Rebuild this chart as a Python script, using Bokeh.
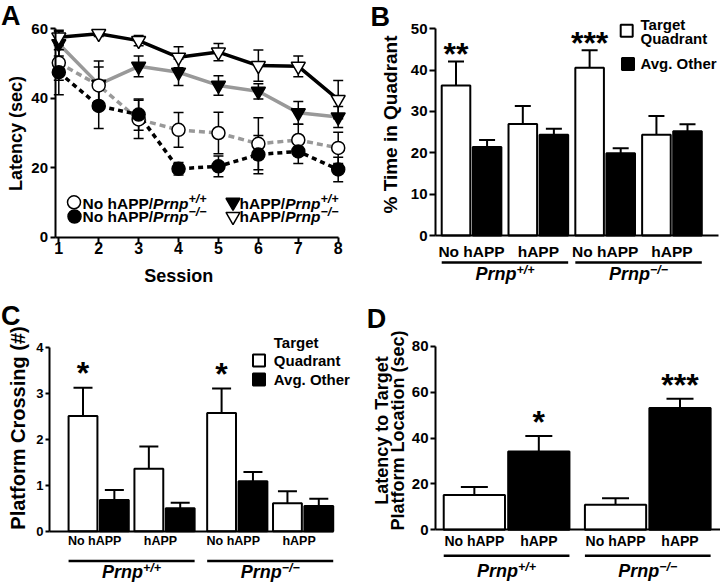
import math
from bokeh.plotting import figure
from bokeh.models import LinearAxis, FixedTicker, Range1d
from bokeh.layouts import column, row
from bokeh.embed import file_html
from bokeh.resources import INLINE
from bokeh.core.properties import value

FONT = "Liberation Sans"
GRAY = "#999999"

# ---------------- data ----------------
# Panel A: escape latency per session
sessions = [1, 2, 3, 4, 5, 6, 7, 8]
latency_ticks = [0, 20, 40, 60]
noapp_wt = [50.2, 43.7, 33.9, 30.9, 30.0, 26.9, 28.0, 25.7]
noapp_wt_err = [5.0, 7.0, 5.5, 5.0, 6.0, 7.5, 4.5, 4.5]
noapp_ko = [47.5, 37.8, 35.3, 19.7, 20.4, 23.8, 24.7, 19.5]
noapp_ko_err = [6.5, 6.5, 4.5, 1.8, 3.0, 5.5, 3.5, 3.5]
happ_wt = [55.7, 44.0, 49.2, 47.5, 43.7, 42.0, 35.8, 34.6]
happ_wt_err = [3.5, 5.0, 3.0, 3.8, 2.8, 2.2, 3.3, 3.0]
happ_ko = [57.6, 58.6, 56.6, 51.8, 53.3, 49.4, 49.2, 39.6]
happ_ko_err = [2.0, 0.8, 1.5, 3.0, 2.5, 4.5, 3.0, 5.5]

# shared category labels
transgene = ["No hAPP", "hAPP"]
genotype_base = ["Prnp", "Prnp"]
genotype_sup = ["+/+", "\u2212/\u2212"]
legend_target = ["Target", "Quadrant"]
legend_other = "Avg. Other"

# Panel B: % time in quadrant (order: NoAPP/WT, hAPP/WT, NoAPP/KO, hAPP/KO)
quad_ticks = [0, 10, 20, 30, 40, 50]
quad_target = [36.3, 27.0, 40.6, 24.4]
quad_target_err = [5.8, 4.3, 4.2, 4.5]
quad_other = [21.4, 24.4, 19.9, 25.2]
quad_other_err = [1.7, 1.4, 1.2, 1.7]
quad_stars = ["**", "", "***", ""]

# Panel C: platform crossings
cross_ticks = [0, 1, 2, 3, 4]
cross_target = [2.51, 1.36, 2.58, 0.61]
cross_target_err = [0.62, 0.49, 0.53, 0.26]
cross_other = [0.68, 0.50, 1.09, 0.55]
cross_other_err = [0.22, 0.12, 0.20, 0.16]
cross_stars = ["*", "", "*", ""]

# Panel D: latency to target platform location
lat_ticks = [0, 20, 40, 60, 80]
lat_target = [15.2, 34.1, 10.9, 53.1]
lat_target_err = [3.4, 6.8, 2.9, 4.0]
lat_stars = ["", "*", "", "***"]

# ---------------- helpers ----------------
HW = {' ': 278, 'N': 722, 'o': 611, 'h': 611, 'A': 722, 'P': 667, '/': 278,
      'r': 389, 'n': 611, 'p': 611, '+': 584, '\u2212': 584}
MID = 0.3465  # em-box middle above the baseline


def text_width(s, size):
    return sum(HW.get(c, 556) for c in s) * size / 1000.0


class Panel:
    """One panel; positions of decorations are given in reference pixels."""

    def __init__(self, ox, oy, w, h, xcal, ycal):
        self.ox, self.oy, self.w, self.h = ox, oy, w, h
        (p1, d1), (p2, d2) = xcal
        l1, l2 = p1 - ox, p2 - ox
        self.kx = (d2 - d1) / (l2 - l1)
        self.x0 = d1 - l1 * self.kx
        (q1, e1), (q2, e2) = ycal
        m1, m2 = q1 - oy, q2 - oy
        self.ky = (e2 - e1) / (m2 - m1)
        self.y0 = e1 - m1 * self.ky
        p = figure(width=w, height=h,
                   x_range=Range1d(self.x0, self.x0 + w * self.kx),
                   y_range=Range1d(self.y0 + h * self.ky, self.y0),
                   x_axis_type=None, y_axis_type=None,
                   toolbar_location=None, output_backend="svg",
                   min_border=0, outline_line_color=None,
                   background_fill_color="white", border_fill_color="white")
        p.title = None
        self.p = p

    def X(self, px):
        return self.x0 + (px - self.ox) * self.kx

    def Y(self, py):
        return self.y0 + (py - self.oy) * self.ky

    def DX(self, n):
        return n * self.kx

    def DY(self, n):
        return -n * self.ky

    def text(self, x, y, s, size, style="bold", align="left", baseline="alphabetic", angle=0.0):
        if baseline == "alphabetic":
            y = y + self.DY(MID * size)
            baseline = "middle"
        self.p.text(x=[x], y=[y], text=[s], text_font=value(FONT),
                    text_font_size=f"{size}px", text_font_style=style,
                    text_align=align, text_baseline=baseline, angle=angle,
                    text_color="black")

    def rich(self, x, y, parts, align="left"):
        total = sum(text_width(s, sz) for s, sz, st, r in parts)
        cur = x if align == "left" else x - self.DX(total / 2.0)
        for s, sz, st, r in parts:
            self.text(cur, y + self.DY(r), s, sz, st)
            cur += self.DX(text_width(s, sz))


def style_axis(ax, size, tick_out, standoff):
    ax.axis_line_width = 2
    ax.axis_line_color = "black"
    ax.major_tick_line_width = 2
    ax.major_tick_line_color = "black" if tick_out > 0 else None
    ax.major_tick_in = 0
    ax.major_tick_out = tick_out
    ax.minor_tick_line_color = None
    ax.major_label_text_font = FONT
    ax.major_label_text_font_style = "bold"
    ax.major_label_text_font_size = f"{size}px"
    ax.major_label_text_color = "black"
    ax.major_label_standoff = standoff


def y_axis(P, xloc, ticks, size, tick_out):
    ax = LinearAxis(fixed_location=xloc, bounds=(ticks[0], ticks[-1]),
                    ticker=FixedTicker(ticks=ticks))
    style_axis(ax, size, tick_out, 2)
    P.p.add_layout(ax, "left")


def x_axis(P, bounds, ticks, size, tick_out, standoff):
    ax = LinearAxis(fixed_location=0, bounds=bounds, ticker=FixedTicker(ticks=ticks))
    style_axis(ax, size, tick_out, standoff)
    P.p.add_layout(ax, "below")


def bars(P, xs, tops, errs, fills, width, cap_px):
    P.p.vbar(x=xs, top=tops, bottom=0, width=width, fill_color=fills,
             line_color="black", line_width=2)
    hi = [t + e for t, e in zip(tops, errs)]
    P.p.segment(x0=xs, y0=tops, x1=xs, y1=hi, line_color="black", line_width=2)
    h = P.DX(cap_px / 2.0)
    P.p.segment(x0=[x - h for x in xs], y0=hi, x1=[x + h for x in xs], y1=hi,
                line_color="black", line_width=2)


def stars(P, xs, tops, errs, marks, drop_px):
    for x, t, e, m in zip(xs, tops, errs, marks):
        if m:
            P.text(x, t + e - P.DY(drop_px), m, 32, align="center")


def cat_labels(P, xs, size, base_y):
    for x, lab in zip(xs, transgene * 2):
        P.text(x, P.Y(base_y), lab, size, align="center")


def footer(P, spans, y_line, y_base, raise_px):
    for g, (l, r) in enumerate(spans):
        P.p.segment(x0=[l], y0=[P.Y(y_line)], x1=[r], y1=[P.Y(y_line)],
                    line_color="black", line_width=2.5)
        P.rich((l + r) / 2.0, P.Y(y_base),
               [(genotype_base[g], 18, "bold italic", 0),
                (genotype_sup[g], 12.5, "bold italic", raise_px)], align="center")


def quad_legend(P, sq1, sq2, tx, bases):
    P.p.scatter([P.X(sq1[0])], [P.Y(sq1[1])], marker="square", size=12,
                fill_color="white", line_color="black", line_width=2)
    P.p.scatter([P.X(sq2[0])], [P.Y(sq2[1])], marker="square", size=12,
                fill_color="black", line_color="black", line_width=2)
    for s, b in zip(legend_target + [legend_other], bases):
        P.text(P.X(tx), P.Y(b), s, 15)


# ---------------- Panel A ----------------
A = Panel(0, 0, 360, 300, ((58.3, 1), (337.7, 8)), ((28.3, 60), (236.7, 0)))
pa = A.p
y_axis(A, A.X(54.5), latency_ticks, 15, 5)
x_axis(A, (A.X(54.5), sessions[-1]), sessions, 16, 5, 0)

series = [
    (happ_wt, happ_wt_err, GRAY, "solid", "inverted_triangle", "black", 14),
    (happ_ko, happ_ko_err, "black", "solid", "inverted_triangle", "white", 14),
    (noapp_wt, noapp_wt_err, GRAY, "6 4", "circle", "white", 13),
    (noapp_ko, noapp_ko_err, "black", "5 4", "circle", "black", 13),
]
for vals, errs, col, dash, mk, fc, sz in series:
    pa.line(sessions, vals, line_color=col, line_width=3.5, line_dash=dash)
cap = A.DX(5)
for vals, errs, col, dash, mk, fc, sz in series:
    lo = [v - e for v, e in zip(vals, errs)]
    hi = [v + e for v, e in zip(vals, errs)]
    pa.segment(x0=sessions, y0=lo, x1=sessions, y1=hi, line_color="black", line_width=1.5)
    pa.segment(x0=[s - cap for s in sessions], y0=hi, x1=[s + cap for s in sessions], y1=hi,
               line_color="black", line_width=1.5)
    pa.segment(x0=[s - cap for s in sessions], y0=lo, x1=[s + cap for s in sessions], y1=lo,
               line_color="black", line_width=1.5)
for vals, errs, col, dash, mk, fc, sz in series:
    pa.scatter(sessions, vals, marker=mk, size=sz, fill_color=fc, line_color="black",
               line_width=1.5)

# legend A
leg_items = [
    ((73.5, 201.8), "circle", "white", 13, 82, 208.3, "No hAPP/", 0),
    ((74.0, 216.0), "circle", "black", 13, 82, 221.7, "No hAPP/", 1),
    ((232.5, 201.8), "inverted_triangle", "black", 14, 239, 208.3, "hAPP/", 0),
    ((232.5, 216.0), "inverted_triangle", "white", 14, 239, 221.7, "hAPP/", 1),
]
for (mx, my), mk, fc, sz, tx, ty, lab, g in leg_items:
    pa.scatter([A.X(mx)], [A.Y(my)], marker=mk, size=sz, fill_color=fc,
               line_color="black", line_width=1.5)
    A.rich(A.X(tx), A.Y(ty), [(lab, 15.5, "bold", 0), (genotype_base[g], 15.5, "bold italic", 0),
                              (genotype_sup[g], 12.5, "bold italic", 5.5)])

A.text(A.X(178.3), A.Y(281.7), "Session", 18, align="center")
A.text(A.X(15.1), A.Y(133), "Latency (sec)", 18, align="center", baseline="middle",
       angle=math.pi / 2)
A.text(A.X(0.5), A.Y(24.8), "A", 27)

# ---------------- Panel B ----------------
B = Panel(360, 0, 360, 300, ((455.5, 0.5), (687, 7.95)), ((28.3, 50), (235, 0)))
bx_t = [0.5 + 2.15 * i for i in range(4)]
bx_o = [x + 1 for x in bx_t]
y_axis(B, B.X(435), quad_ticks, 15, 6)
bars(B, bx_t, quad_target, quad_target_err, ["white"] * 4, 0.92, 16)
bars(B, bx_o, quad_other, quad_other_err, ["black"] * 4, 0.92, 16)
stars(B, bx_t, quad_target, quad_target_err, quad_stars, 3.5)
x_axis(B, (B.X(435), B.X(718)), [], 15, 0, 7)
cat_labels(B, [x + 0.5 for x in bx_t], 15.5, 256)
footer(B, [(bx_t[0] - 0.46, bx_o[1] + 0.46), (bx_t[2] - 0.46, bx_o[3] + 0.46)], 262, 280, 6)
quad_legend(B, (626.2, 30.3), (627.5, 63.5), 640, [29.1, 42.7, 67.8])
B.text(B.X(390.3), B.Y(124), "% Time in Quadrant", 19, align="center", baseline="middle",
       angle=math.pi / 2)
B.text(B.X(370), B.Y(25.8), "B", 27)

# ---------------- Panel C ----------------
C = Panel(0, 300, 360, 286, ((82.5, 0.5), (318.3, 8.02)), ((347.3, 4), (530.7, 0)))
cx_t = [0.5 + 2.1 * (i % 2) + 4.42 * (i // 2) for i in range(4)]
cx_o = [x + 1 for x in cx_t]
y_axis(C, C.X(49), cross_ticks, 13, 4)
bars(C, cx_t, cross_target, cross_target_err, ["white"] * 4, 0.92, 19)
bars(C, cx_o, cross_other, cross_other_err, ["black"] * 4, 0.92, 19)
stars(C, cx_t, cross_target, cross_target_err, cross_stars, -3.5)
x_axis(C, (C.X(49), C.X(333.3)), [], 12, 0, 3)
cat_labels(C, [x + 0.5 - C.DX(4) for x in cx_t], 12.5, 545)
footer(C, [(cx_t[0] - 0.46, cx_o[1] + 0.46), (cx_t[2] - 0.46, cx_o[3] + 0.46)], 560.5, 577.7, 5.7)
quad_legend(C, (258.5, 360), (258.5, 379), 273.3, [346.7, 365.4, 384.4])
C.text(C.X(17.3), C.Y(427.5), "Platform Crossing (#)", 20, align="center", baseline="middle",
       angle=math.pi / 2)
C.text(C.X(0.5), C.Y(325), "C", 27)

# ---------------- Panel D ----------------
D = Panel(360, 300, 360, 286, ((473.85, 0.5), (679.5, 3.69)), ((345.7, 80), (529.3, 0)))
dx = [0.5 + (i % 2) + 2.19 * (i // 2) for i in range(4)]
y_axis(D, D.X(435), lat_ticks, 15, 5)
bars(D, dx, lat_target, lat_target_err, ["white", "black", "white", "black"], 0.95, 27)
stars(D, dx, lat_target, lat_target_err, lat_stars, -2.5)
x_axis(D, (D.X(435), D.X(720)), [], 14, 0, 3)
cat_labels(D, dx, 14, 545)
footer(D, [(dx[0] - 0.475, dx[1] + 0.475), (dx[2] - 0.475, dx[3] + 0.475)], 555.3, 576.7, 5.7)
D.text(D.X(381.6), D.Y(430), "Latency to Target", 18, align="center", baseline="middle",
       angle=math.pi / 2)
D.text(D.X(397.6), D.Y(430), "Platform Location (sec)", 18, align="center", baseline="middle",
       angle=math.pi / 2)
D.text(D.X(366.3), D.Y(328.3), "D", 27)

layout = column(row(A.p, B.p), row(C.p, D.p))
open("out.html", "w").write(file_html(layout, INLINE))
